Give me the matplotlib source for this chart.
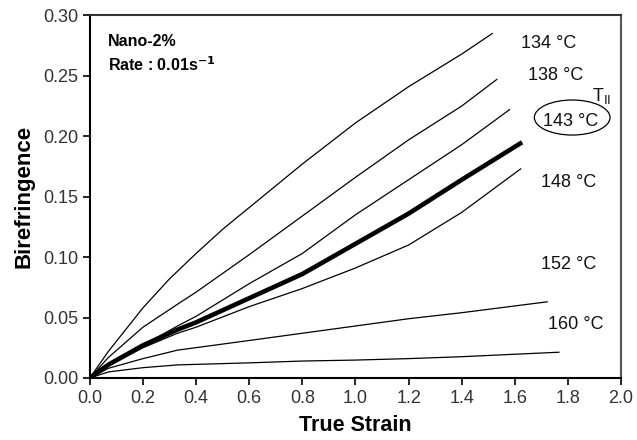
import numpy as np
import matplotlib
matplotlib.use("Agg")
import matplotlib.pyplot as plt
from matplotlib.patches import Ellipse

plt.rcParams['font.family'] = ['Liberation Sans', 'DejaVu Sans']

# strain / birefringence
s_134 = [0.0, 0.07, 0.2, 0.3, 0.4, 0.5, 0.6, 0.8, 1.0, 1.2, 1.4, 1.515]
b_134 = [0.0, 0.022, 0.058, 0.082, 0.103, 0.123, 0.141, 0.177, 0.211, 0.241, 0.268, 0.285]

s_138 = [0.0, 0.07, 0.2, 0.33, 0.4, 0.6, 0.8, 1.0, 1.2, 1.4, 1.532]
b_138 = [0.0, 0.017, 0.042, 0.061, 0.071, 0.102, 0.134, 0.166, 0.197, 0.225, 0.247]

s_143a = [0.0, 0.07, 0.2, 0.33, 0.4, 0.6, 0.8, 1.0, 1.2, 1.4, 1.58]
b_143a = [0.0, 0.011, 0.027, 0.043, 0.051, 0.078, 0.103, 0.135, 0.164, 0.193, 0.222]

s_143 = [0.0, 0.07, 0.2, 0.33, 0.4, 0.6, 0.8, 1.0, 1.2, 1.4, 1.62]
b_143 = [0.0, 0.011, 0.027, 0.040, 0.046, 0.066, 0.086, 0.111, 0.136, 0.164, 0.194]

s_148 = [0.0, 0.07, 0.2, 0.33, 0.4, 0.6, 0.8, 1.0, 1.2, 1.4, 1.622]
b_148 = [0.0, 0.010, 0.025, 0.037, 0.042, 0.059, 0.074, 0.091, 0.110, 0.137, 0.173]

s_152 = [0.0, 0.07, 0.2, 0.33, 0.6, 0.8, 1.0, 1.2, 1.4, 1.722]
b_152 = [0.0, 0.008, 0.016, 0.023, 0.031, 0.037, 0.043, 0.049, 0.054, 0.063]

s_160 = [0.0, 0.07, 0.2, 0.33, 0.6, 0.8, 1.0, 1.2, 1.4, 1.766]
b_160 = [0.0, 0.005, 0.0085, 0.0108, 0.0125, 0.0140, 0.0148, 0.016, 0.0176, 0.0213]

temp_labels = ["134 °C", "138 °C", "143 °C", "148 °C", "152 °C", "160 °C"]
label_x = [1.623, 1.65, 1.707, 1.70, 1.70, 1.725]
label_y = [0.277, 0.250, 0.212, 0.162, 0.0935, 0.044]

fig = plt.figure(figsize=(6.37, 4.4), dpi=100)
ax = fig.add_axes([0.141, 0.141, 0.834, 0.824])

thin = [(s_134, b_134), (s_138, b_138), (s_143a, b_143a), (s_148, b_148),
        (s_152, b_152), (s_160, b_160)]
for s, b in thin:
    ax.plot(s, b, color='black', lw=0.9)
ax.plot(s_143, b_143, color='black', lw=3.3)

for t, x, y in zip(temp_labels, label_x, label_y):
    ax.text(x, y, t, fontsize=13, va='center', ha='left', color='#111111')

ax.text(1.89, 0.233, r"T$_{\mathrm{II}}$", fontsize=13, va='center', ha='left', color='#111111')
ax.add_patch(Ellipse((1.816, 0.2155), 0.285, 0.029, fill=False, lw=0.9, color='black'))

ax.text(0.068, 0.278, "Nano-2%", fontsize=11.5, fontweight='bold', va='center')
ax.text(0.068, 0.259, r"Rate : 0.01s$^{\mathbf{-1}}$", fontsize=11.5, fontweight='bold', va='center')

ax.set_xlim(0, 2.0)
ax.set_ylim(0, 0.30)
ax.set_xticks(np.arange(0, 2.01, 0.2))
ax.set_yticks(np.arange(0, 0.301, 0.05))
ax.set_xticklabels([f"{v:.1f}" for v in np.arange(0, 2.01, 0.2)])
ax.set_yticklabels([f"{v:.2f}" for v in np.arange(0, 0.301, 0.05)])
ax.tick_params(direction='out', length=5, width=1.2, labelsize=13,
               labelcolor='#333333', top=False, right=False)

for sp in ax.spines.values():
    sp.set_linewidth(1.5)
ax.spines['right'].set_color('#555555')
ax.spines['top'].set_color('#333333')

ax.set_xlabel("True Strain", fontsize=15.5, fontweight='bold', labelpad=6)
ax.set_ylabel("Birefringence", fontsize=16, fontweight='bold', labelpad=6)

fig.savefig("out.png", dpi=100)
